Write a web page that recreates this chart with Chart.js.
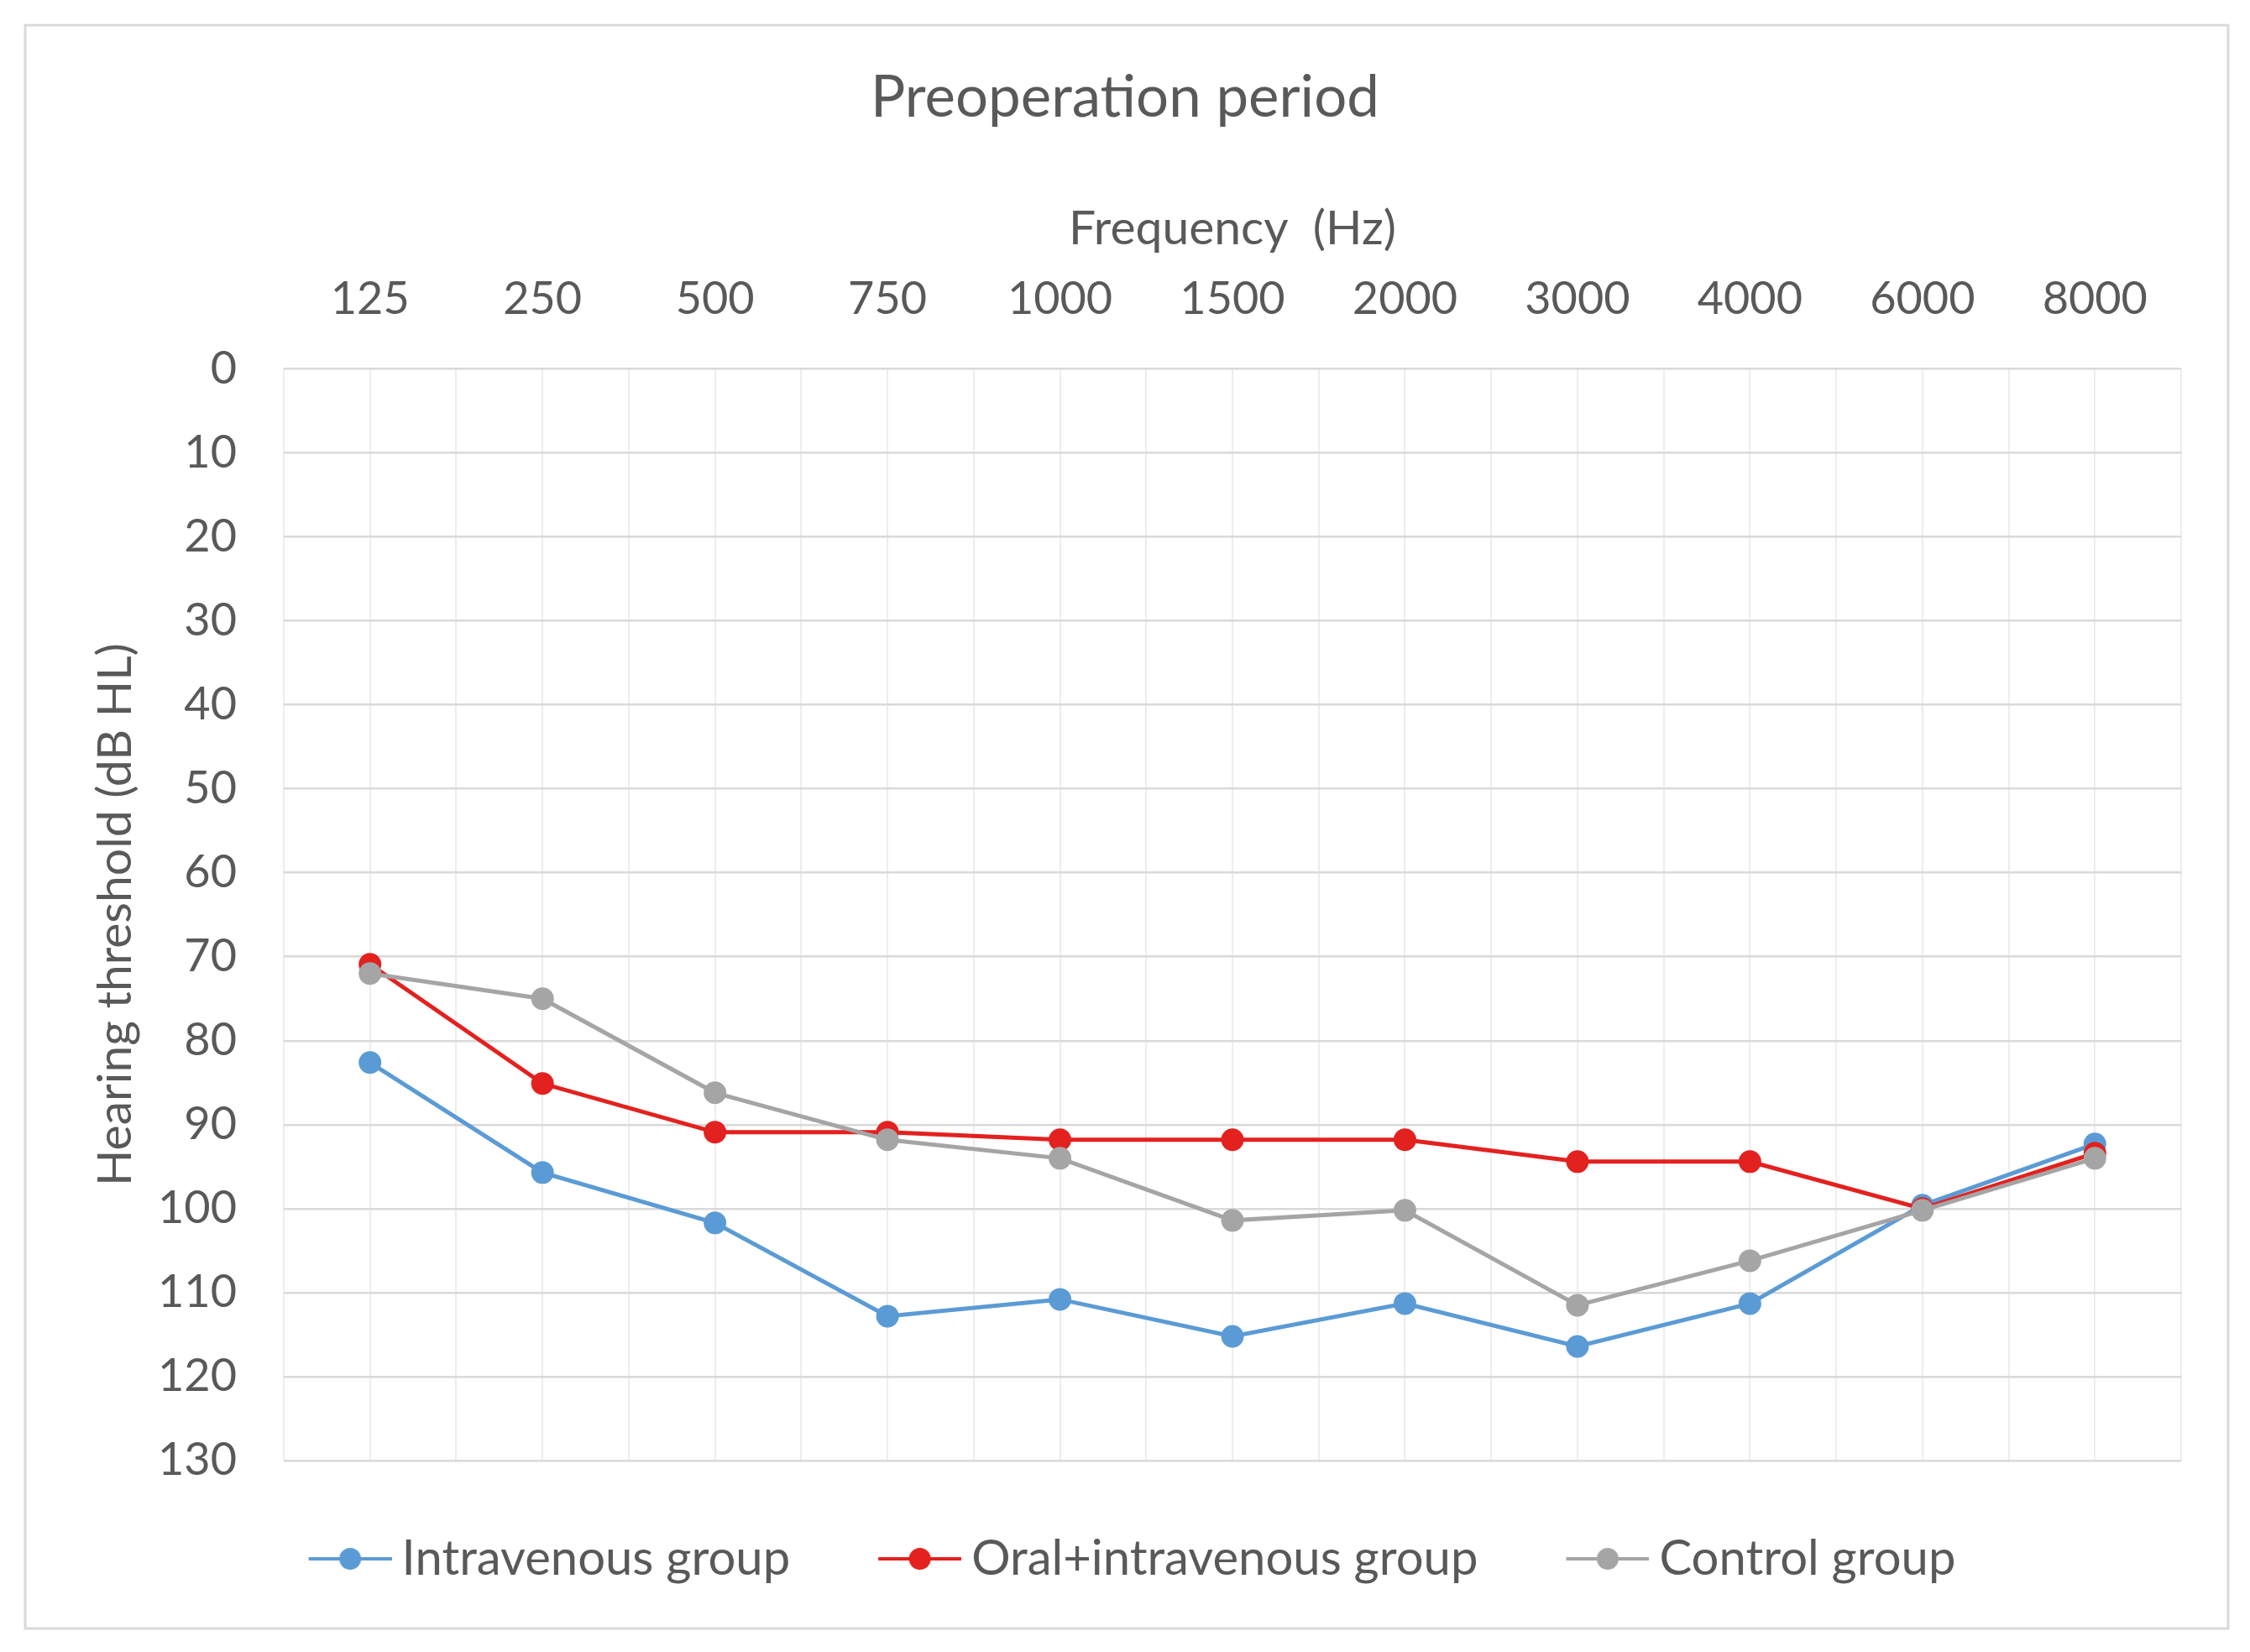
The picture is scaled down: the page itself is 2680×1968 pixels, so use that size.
<!DOCTYPE html>
<html>
<head>
<meta charset="utf-8">
<script src="https://cdn.jsdelivr.net/npm/chart.js@4.4.1/dist/chart.umd.min.js"></script>
<style>
  html, body { margin: 0; padding: 0; background: #fff; }
  #wrap { width: 2680px; height: 1968px; position: relative; }
</style>
</head>
<body>
<div id="wrap"><canvas id="chart"></canvas></div>
<script>
// audiogram values
const frequencies = ['125', '250', '500', '750', '1000', '1500', '2000', '3000', '4000', '6000', '8000']
const intravenous = [82.6, 95.7, 101.7, 112.8, 110.8, 115.2, 111.3, 116.4, 111.3, 99.6, 92.3]
const oralIntravenous = [70.9, 85.1, 90.9, 90.9, 91.8, 91.8, 91.8, 94.4, 94.4, 100, 93.4]
const control = [72, 75, 86.2, 91.8, 94, 101.4, 100.2, 111.5, 106.2, 100.2, 94]
const yTicks = [0, 10, 20, 30, 40, 50, 60, 70, 80, 90, 100, 110, 120, 130]

const textColor = '#595959'
const fontFamily = 'Lato, "Open Sans", sans-serif'

const toPoints = (values) => values.map((v, i) => ({ x: i, y: v }))

// small canvas used as legend symbol: line with a dot
// (left part is empty so the symbol sits where the legend box starts)
const legendSymbol = (color) => {
  const c = document.createElement('canvas')
  c.width = 133
  c.height = 32
  const ctx = c.getContext('2d')
  ctx.strokeStyle = color
  ctx.lineWidth = 4
  ctx.beginPath()
  ctx.moveTo(34, 16)
  ctx.lineTo(133, 16)
  ctx.stroke()
  ctx.fillStyle = color
  ctx.beginPath()
  ctx.arc(83.5, 16, 13, 0, Math.PI * 2)
  ctx.fill()
  return c
}

const series = [
  { label: 'Intravenous group', values: intravenous, color: '#5B9BD5', order: 2 },
  { label: 'Oral+intravenous group', values: oralIntravenous, color: '#E3211F', order: 1 },
  { label: 'Control group', values: control, color: '#A5A5A5', order: 0 }
]

const datasets = series.map(s => ({
  label: s.label,
  data: toPoints(s.values),
  borderColor: s.color,
  backgroundColor: s.color,
  borderWidth: 5,
  pointRadius: 13.5,
  pointHoverRadius: 13.5,
  pointBorderWidth: 0,
  order: s.order,
  tension: 0
}))

// outer frame of the figure
const framePlugin = {
  id: 'frame',
  beforeDraw(chart) {
    const ctx = chart.ctx
    ctx.save()
    ctx.fillStyle = '#ffffff'
    ctx.fillRect(0, 0, chart.width, chart.height)
    ctx.strokeStyle = '#d9d9d9'
    ctx.lineWidth = 3
    ctx.strokeRect(30, 30, 2624, 1910)
    ctx.restore()
  }
}

const canvas = document.getElementById('chart')

new Chart(canvas, {
  type: 'line',
  data: { datasets: datasets },
  plugins: [framePlugin],
  options: {
    responsive: true,
    maintainAspectRatio: false,
    animation: false,
    devicePixelRatio: 1,
    layout: { padding: { top: 0, left: 82, right: 82, bottom: 72 } },
    plugins: {
      title: {
        display: true,
        text: 'Preoperation period',
        color: textColor,
        font: { family: fontFamily, size: 69, weight: 'normal' },
        padding: { top: 75, bottom: 0 }
      },
      legend: {
        position: 'bottom',
        labels: {
          color: textColor,
          font: { family: fontFamily, size: 58 },
          usePointStyle: true,
          pointStyleWidth: 99,
          padding: 88,
          generateLabels: (chart) => series.map((s, i) => ({
            text: s.label,
            fontColor: textColor,
            pointStyle: legendSymbol(s.color),
            datasetIndex: i,
            hidden: false,
            lineWidth: 0
          }))
        }
      },
      tooltip: { enabled: false }
    },
    scales: {
      x: {
        type: 'linear',
        position: 'top',
        min: -0.5,
        max: 10.5,
        afterFit: (scale) => { scale.height = 281.6 },
        afterBuildTicks: (scale) => {
          const t = []
          for (let i = -1; i <= 21; i++) t.push({ value: i / 2 })
          scale.ticks = t
        },
        ticks: {
          autoSkip: false,
          maxRotation: 0,
          padding: 50,
          color: textColor,
          font: { family: fontFamily, size: 54 },
          callback: (v) => Number.isInteger(v) ? frequencies[v] : ''
        },
        grid: { color: '#ededed', lineWidth: 2, drawTicks: false },
        border: { display: false },
        title: {
          display: true,
          text: 'Frequency  (Hz)',
          color: textColor,
          font: { family: fontFamily, size: 57 },
          padding: { top: 81, bottom: 0 }
        }
      },
      y: {
        reverse: true,
        min: 0,
        max: 130,
        afterFit: (scale) => { scale.width = 256 },
        afterBuildTicks: (scale) => { scale.ticks = yTicks.map(v => ({ value: v })) },
        ticks: {
          padding: 56,
          color: textColor,
          font: { family: fontFamily, size: 54 }
        },
        grid: { color: '#d9d9d9', lineWidth: 2.5, drawTicks: false },
        border: { display: false },
        title: {
          display: true,
          text: 'Hearing threshold (dB HL)',
          color: textColor,
          font: { family: fontFamily, size: 57 },
          padding: { top: 21, bottom: 0 }
        }
      }
    }
  }
})
</script>
</body>
</html>
